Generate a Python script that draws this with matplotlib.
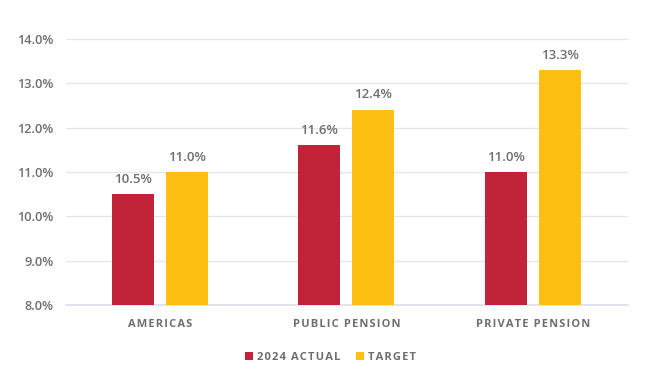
import matplotlib
matplotlib.use("Agg")
import matplotlib.pyplot as plt
import numpy as np

categories = ["AMERICAS", "PUBLIC PENSION", "PRIVATE PENSION"]
actual_2024 = [10.5, 11.6, 11.0]
target = [11.0, 12.4, 13.3]
series_names = ["2024 ACTUAL", "TARGET"]

RED = "#C12339"
YELLOW = "#FDBF12"
GREY = "#6e6e6e"

plt.rcParams["font.family"] = ["Open Sans", "DejaVu Sans"]

fig = plt.figure(figsize=(6.61, 3.77), dpi=100)
fig.patch.set_facecolor("white")
ax = fig.add_axes([0.0998, 0.191, 0.8502, 0.7056])

x = np.arange(len(categories))
w = 0.225
off = 0.145
b1 = ax.bar(x - off, [v - 8 for v in actual_2024], w, bottom=8, color=RED, zorder=3,
            label=series_names[0])
b2 = ax.bar(x + off, [v - 8 for v in target], w, bottom=8, color=YELLOW, zorder=3,
            label=series_names[1])

# value labels above each bar
for xs, vals in ((x - off, actual_2024), (x + off, target)):
    for xi, v in zip(xs, vals):
        ax.text(xi, v + 0.19, f"{v:.1f}%", ha="center", va="bottom",
                fontsize=9.5, color=GREY, fontweight="semibold")

ax.set_xlim(-0.504, 2.51)
ax.set_ylim(8, 14)
ax.set_yticks(np.arange(8, 14.1, 1))
ax.set_yticklabels([f"{t:.1f}%" for t in np.arange(8, 14.1, 1)], fontsize=9.2,
                   color=GREY, fontweight="semibold")
ax.set_xticks(x)
ax.set_xticklabels(["\u200a".join(c) for c in categories], fontsize=8,
                   color=GREY, fontweight="bold")
ax.tick_params(axis="both", length=0)
ax.tick_params(axis="y", pad=9)
ax.tick_params(axis="x", pad=10)
ax.grid(axis="y", color="#e6e6e6", linewidth=1, zorder=0)
for s in ("top", "right", "left"):
    ax.spines[s].set_visible(False)
ax.spines["bottom"].set_color("#dde0ee")
ax.spines["bottom"].set_linewidth(1.2)

leg = fig.legend(handles=[b1, b2],
                 labels=["\u200a".join(n) for n in series_names],
                 loc="center", bbox_to_anchor=(0.5, 1 - 357 / 377), ncol=2,
                 frameon=False, handlelength=0.7, handleheight=0.7,
                 handletextpad=0.4, columnspacing=1.4,
                 prop={"size": 8, "weight": "bold"})
for t in leg.get_texts():
    t.set_color(GREY)

fig.savefig("out.png", dpi=100)
